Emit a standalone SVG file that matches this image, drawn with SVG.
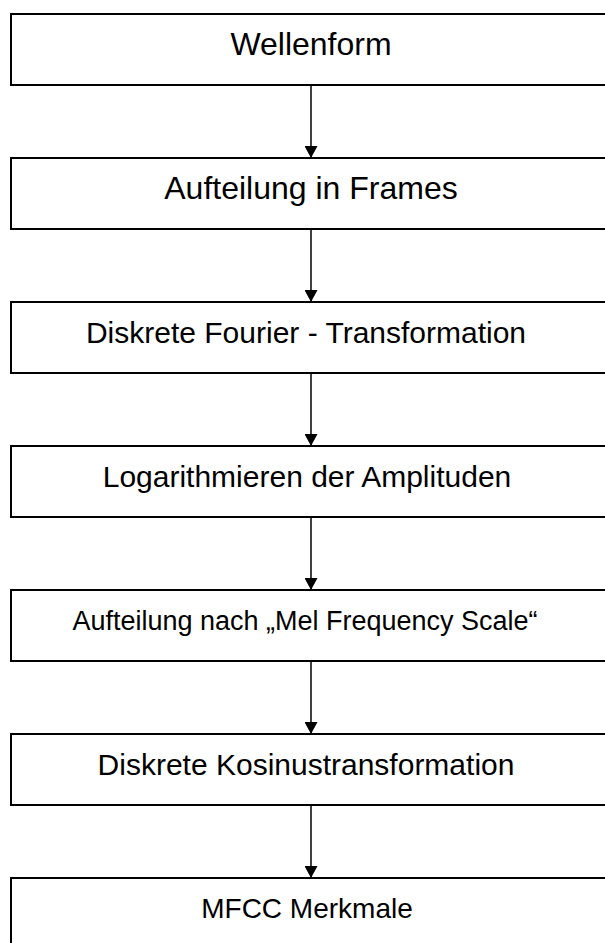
<svg xmlns="http://www.w3.org/2000/svg" width="605" height="943" viewBox="0 0 605 943">
<style>
.box{fill:#fff;stroke:#000;stroke-width:2}
.t{font-family:"Liberation Sans",Arial,sans-serif;font-size:30px;fill:#000;text-anchor:middle}
.tb{font-size:32px}
.c{stroke:#000;stroke-width:1.5;fill:none}
</style>
<defs>
<marker id="ah" markerUnits="userSpaceOnUse" markerWidth="12" markerHeight="13" refX="12" refY="6.5" orient="auto" viewBox="0 0 12 13">
<path d="M0,0 L12,6.5 L0,13 Z" fill="#000"/>
</marker>
</defs>
<rect width="605" height="943" fill="#fff"/>
<g id="connectors">
<line class="c" x1="311" y1="85" x2="311" y2="158" marker-end="url(#ah)"/>
<line class="c" x1="311" y1="229" x2="311" y2="302" marker-end="url(#ah)"/>
<line class="c" x1="311" y1="373" x2="311" y2="446" marker-end="url(#ah)"/>
<line class="c" x1="311" y1="517" x2="311" y2="590" marker-end="url(#ah)"/>
<line class="c" x1="311" y1="661" x2="311" y2="734" marker-end="url(#ah)"/>
<line class="c" x1="311" y1="805" x2="311" y2="878" marker-end="url(#ah)"/>
</g>
<g id="n1"><rect class="box" x="11" y="14" width="600" height="71"/><text class="t tb" x="311" y="55">Wellenform</text></g>
<g id="n2"><rect class="box" x="11" y="158" width="600" height="71"/><text class="t tb" x="311" y="199">Aufteilung in Frames</text></g>
<g id="n3"><rect class="box" x="11" y="302" width="600" height="71"/><text class="t" x="306" y="343">Diskrete Fourier - Transformation</text></g>
<g id="n4"><rect class="box" x="11" y="446" width="600" height="71"/><text class="t" x="307" y="487">Logarithmieren der Amplituden</text></g>
<g id="n5"><rect class="box" x="11" y="590" width="600" height="71"/><text class="t" x="305" y="630" style="font-size:27px">Aufteilung nach „Mel Frequency Scale“</text></g>
<g id="n6"><rect class="box" x="11" y="734" width="600" height="71"/><text class="t" x="306" y="775">Diskrete Kosinustransformation</text></g>
<g id="n7"><rect class="box" x="11" y="878" width="600" height="71"/><text class="t" x="307" y="918" style="font-size:28px">MFCC Merkmale</text></g>
</svg>
